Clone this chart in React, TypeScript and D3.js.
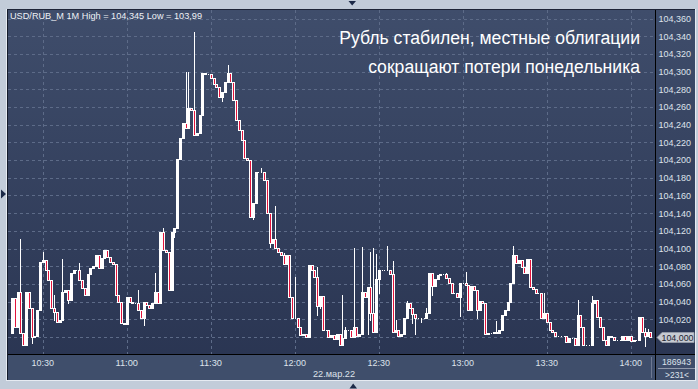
import React from "react";
import * as d3 from "d3";

// ---- data (USD/RUB_M, 1-minute candles, 22.03.22) ----
const startMinute = 10 * 60 + 19; // first visible candle 10:19
const firstOpen = 104.005;
const closes = [
  104.044, 104.011, 104.051, 104.005, 103.991, 104.051, 104.033, 104.000, 104.001, 104.031,
  104.085, 104.087, 104.076, 104.064, 104.033, 104.028, 104.017, 104.019, 104.051, 104.053,
  104.042, 104.072, 104.076, 104.076, 104.064, 104.055, 104.047, 104.071, 104.078, 104.080,
  104.093, 104.078, 104.089, 104.098, 104.090, 104.085, 104.083, 104.047, 104.040, 104.016,
  104.015, 104.045, 104.040, 104.038, 104.038, 104.031, 104.021, 104.040, 104.036, 104.033,
  104.038, 104.051, 104.038, 104.119, 104.098, 104.096, 104.053, 104.119, 104.123, 104.201,
  104.225, 104.242, 104.236, 104.259, 104.257, 104.228, 104.231, 104.251, 104.298, 104.297,
  104.297, 104.293, 104.286, 104.283, 104.271, 104.277, 104.288, 104.298, 104.288, 104.268,
  104.245, 104.234, 104.223, 104.202, 104.200, 104.136, 104.151, 104.186, 104.186, 104.186,
  104.177, 104.140, 104.106, 104.111, 104.101, 104.096, 104.093, 104.083, 104.093, 104.045,
  104.021, 104.021, 104.011, 104.002, 104.003, 104.000, 104.081, 104.076, 104.068, 104.035,
  104.046, 104.008, 104.008, 104.000, 104.002, 103.998, 104.003, 103.991, 103.999, 104.008,
  104.008, 104.000, 104.011, 104.001, 104.003, 104.051, 104.045, 104.057, 104.027, 104.006,
  104.066, 104.076, 104.076, 104.076, 104.076, 104.071, 104.006, 104.008, 104.001, 104.003,
  104.021, 104.038, 104.033, 104.026, 104.021, 104.021, 104.021, 104.021, 104.027, 104.072,
  104.058, 104.066, 104.070, 104.071, 104.071, 104.067, 104.061, 104.050, 104.050, 104.045,
  104.061, 104.061, 104.059, 104.031, 104.058, 104.053, 104.031, 104.041, 104.038, 104.003,
  104.005, 104.005, 104.006, 104.005, 104.008, 104.025, 104.031, 104.040, 104.061, 104.093,
  104.084, 104.087, 104.079, 104.072, 104.088, 104.057, 104.054, 104.050, 104.050, 104.021,
  104.027, 104.017, 104.008, 104.006, 104.001, 104.001, 104.001, 104.001, 103.994, 103.999,
  103.999, 103.991, 104.025, 104.011, 103.991, 103.991, 103.991, 104.038, 104.042, 104.023,
  104.011, 103.997, 103.991, 104.001, 104.000, 103.997, 103.997, 103.997, 104.001, 103.997,
  104.001, 103.995, 103.997, 103.997, 104.023, 104.006, 104.001, 104.006, 104.000,
];
const highWicks: [number, number][] = [
  [3, 104.111], [11, 104.096], [15, 104.047], [18, 104.088], [24, 104.084], [45, 104.053],
  [51, 104.072], [54, 104.123], [62, 104.300], [63, 104.300], [65, 104.345], [77, 104.307],
  [89, 104.191], [94, 104.148], [97, 104.095], [101, 104.068], [109, 104.079], [111, 104.026],
  [118, 104.047], [119, 104.011], [122, 104.101], [125, 104.102], [128, 104.096], [129, 104.101],
  [130, 104.094], [134, 104.103], [136, 104.086], [137, 104.019], [141, 104.041], [148, 104.033],
  [155, 104.072], [162, 104.073], [173, 104.018], [179, 104.103], [190, 104.050], [202, 104.042],
  [207, 104.046], [226, 104.010], [227, 104.009],
];
const lowWicks: [number, number][] = [
  [7, 103.993], [15, 104.019], [20, 104.038], [47, 104.014], [58, 104.113], [75, 104.267],
  [86, 104.133], [92, 104.102], [109, 104.025], [110, 104.033], [127, 104.003], [128, 104.019],
  [131, 104.050], [143, 104.016], [144, 104.003], [146, 104.017], [150, 104.047], [160, 104.024],
  [166, 104.021], [226, 103.990],
];
const priceTicks = [
  104.02, 104.04, 104.06, 104.08, 104.10, 104.12, 104.14, 104.16, 104.18,
  104.20, 104.22, 104.24, 104.26, 104.28, 104.30, 104.32, 104.34, 104.36,
];
const gridPrices = [104.0, ...priceTicks];
const timeTicks = ["10:30", "11:00", "11:30", "12:00", "12:30", "13:00", "13:30", "14:00"];
const headerText = "USD/RUB_M 1M High = 104,345 Low = 103,99";
const titleLines = ["Рубль стабилен, местные облигации", "сокращают потери понедельника"];
const dateLabel = "22.мар.22";
const lastPrice = 104.0;
const volumeLabel = "186943";
const barsLabel = ">231<";

const FONT = "'Liberation Sans', Arial, sans-serif";

const toMin = (s: string) => {
  const [h, m] = s.split(":").map(Number);
  return h * 60 + m;
};
const fmt = (v: number) => v.toFixed(3).replace(".", ",");

export default function App() {
  const W = 698, H = 389;
  const plotL = 8, plotR = 655, plotT = 10, plotB = 354;
  const x = d3.scaleLinear().domain([630, 840]).range([42.7, 630.7]);
  const y = d3.scaleLinear().domain([104, 104.36]).range([337, 18.5]);

  const hi = new Map(highWicks);
  const lo = new Map(lowWicks);
  const candles = closes.map((c, i) => {
    const o = i === 0 ? firstOpen : closes[i - 1];
    const h = Math.max(o, c, hi.has(i) ? (hi.get(i) as number) : -Infinity);
    const l = Math.min(o, c, lo.has(i) ? (lo.get(i) as number) : Infinity);
    return { t: startMinute + i, o, h, l, c };
  });

  const px = (v: number) => Math.round(v);
  const axisText = { fontFamily: FONT, fontSize: 9.6, fill: "#dde2ea" } as const;

  return (
    <div style={{ position: "absolute", left: 0, top: 0 }}>
      <svg width={W} height={H} style={{ display: "block" }}>
        <defs>
          <linearGradient id="bg" x1="0" y1="0" x2="0" y2="1">
            <stop offset="0" stopColor="#3f4d6b" />
            <stop offset="1" stopColor="#293451" />
          </linearGradient>
        </defs>
        <rect x={0} y={0} width={W} height={H} fill="#c2ccd9" />
        {/* panel */}
        <rect x={plotL} y={plotT} width={695 - plotL} height={380 - plotT} fill="url(#bg)" />
        <rect x={plotL} y={plotB} width={695 - plotL} height={380 - plotB} fill="#3f4e6b" />
        {/* borders */}
        <line x1={7.5} y1={9} x2={7.5} y2={381} stroke="#141b2a" />
        <line x1={7} y1={9.5} x2={696} y2={9.5} stroke="#1d2537" />
        <line x1={6.5} y1={9} x2={6.5} y2={381} stroke="#e6ebf2" />
        <line x1={7} y1={380.5} x2={696} y2={380.5} stroke="#e6ebf2" />
        <line x1={695.5} y1={9} x2={695.5} y2={381} stroke="#e6ebf2" />

        {/* grid */}
        {gridPrices.map((p) => (
          <line key={"g" + p} x1={plotL} x2={plotR} y1={px(y(p)) + 0.5} y2={px(y(p)) + 0.5}
            stroke="#5d6b88" strokeDasharray="3,3" />
        ))}
        {timeTicks.map((t) => (
          <line key={"v" + t} x1={px(x(toMin(t))) + 0.5} x2={px(x(toMin(t))) + 0.5} y1={plotT} y2={plotB}
            stroke="#5d6b88" strokeDasharray="3,3" />
        ))}

        {/* candles */}
        <g>
          {candles.map((d, i) => {
            const cx = px(x(d.t));
            const yo = px(y(d.o)), yc = px(y(d.c));
            const top = Math.min(yo, yc), bot = Math.max(yo, yc);
            const down = d.c < d.o;
            return (
              <g key={i}>
                <line x1={cx + 0.5} x2={cx + 0.5} y1={px(y(d.h))} y2={px(y(d.l)) + 1} stroke="#ffffff" />
                <rect x={cx - 0.5} y={top + 0.5} width={2} height={bot - top}
                  fill={down ? "#e3143c" : "none"} stroke="#ffffff" strokeWidth={1} />
              </g>
            );
          })}
        </g>

        {/* separators */}
        <line x1={plotR + 0.5} x2={plotR + 0.5} y1={plotT} y2={380} stroke="#000000" />
        <line x1={plotL} x2={695} y1={plotB + 0.5} y2={plotB + 0.5} stroke="#000000" />

        {/* header & title */}
        <text x={10} y={18.5} fontFamily={FONT} fontSize={9.4} fill="#eef1f6"
          textLength={192} lengthAdjust="spacingAndGlyphs">{headerText}</text>
        {titleLines.map((t, i) => (
          <text key={t} x={640} y={44 + i * 28.5} textAnchor="end" fontFamily={FONT} fontSize={17.6} fill="#ffffff">{t}</text>
        ))}

        {/* price axis */}
        {priceTicks.map((p) => (
          <text key={"t" + p} x={658.5} y={y(p) + 3.4} {...axisText}
            textLength={32.5} lengthAdjust="spacingAndGlyphs">
            {fmt(p)}
          </text>
        ))}
        {(() => {
          const yl = px(y(lastPrice)) + 0.5;
          return (
            <g>
              <polygon points={`657,${yl} 662,${yl - 5} 694,${yl - 5} 694,${yl + 5} 662,${yl + 5}`}
                fill="#c6cad2" stroke="#9aa1ad" strokeWidth={0.8} />
              <text x={661.5} y={yl + 3.4} fontFamily={FONT} fontSize={9.6} fill="#1c2330"
                textLength={32} lengthAdjust="spacingAndGlyphs">{fmt(lastPrice)}</text>
            </g>
          );
        })()}

        {/* time axis */}
        {timeTicks.map((t) => (
          <text key={"x" + t} x={x(toMin(t)) - 11.2} y={365.7} {...axisText}
            textLength={22.5} lengthAdjust="spacingAndGlyphs">{t}</text>
        ))}
        <text x={313} y={377} {...axisText} textLength={42} lengthAdjust="spacingAndGlyphs">{dateLabel}</text>

        {/* bottom right info */}
        <line x1={651.5} x2={651.5} y1={357} y2={378} stroke="#6d7891" />
        <text x={662} y={365} {...axisText} textLength={29} lengthAdjust="spacingAndGlyphs">{volumeLabel}</text>
        <line x1={658} x2={695} y1={368.5} y2={368.5} stroke="#9099ab" />
        <text x={665} y={378} {...axisText} textLength={24} lengthAdjust="spacingAndGlyphs">{barsLabel}</text>

        {/* navigation triangles */}
        <polygon points="348.5,1 356,1 352.2,5.5" fill="#1c2a48" />
        <polygon points="349.5,388.5 357,388.5 353.2,383.5" fill="#1c2a48" />
        <polygon points="1,189.5 1,198.5 6,194" fill="#1c2a48" />
      </svg>
    </div>
  );
}
